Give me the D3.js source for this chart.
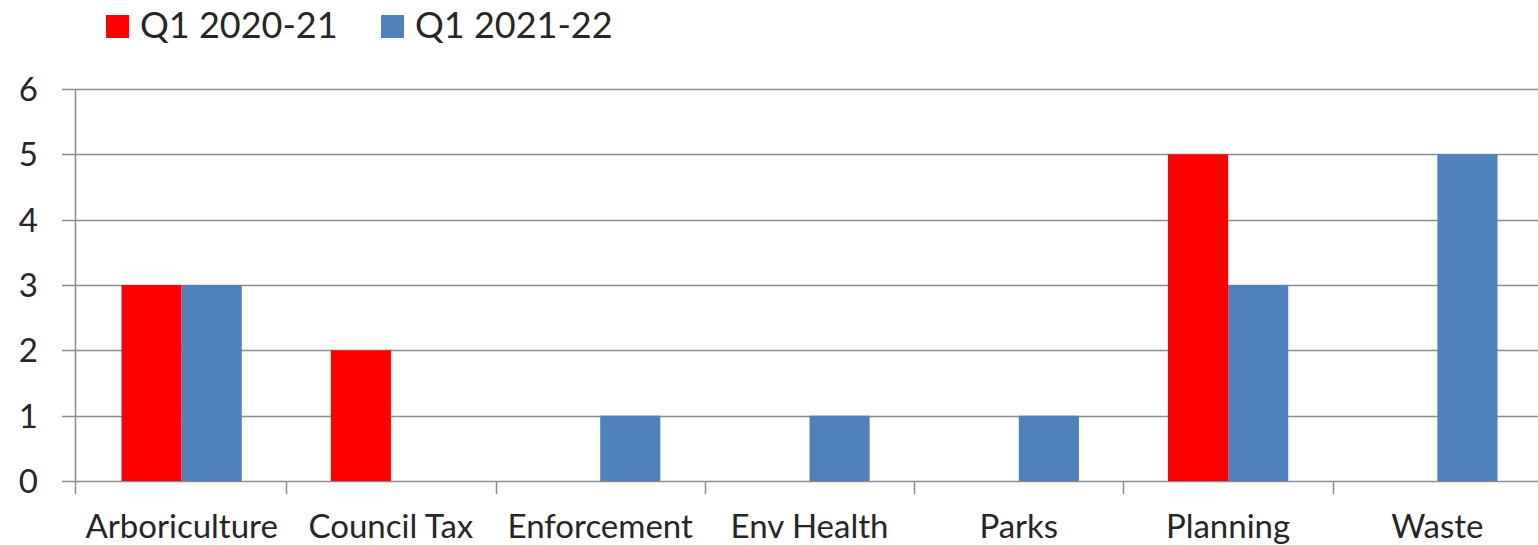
<!DOCTYPE html>
<html>
<head>
<meta charset="utf-8">
<script src="https://cdn.jsdelivr.net/npm/d3@7"></script>
<style>
  html, body { margin: 0; padding: 0; background: #fff; }
  svg { display: block; }
  text { font-family: "Lato", "Open Sans", sans-serif; fill: #262626; }
</style>
</head>
<body>
<svg id="chart" width="1538" height="545"></svg>
<script>
// Complaints by service area, first quarter of each year
const categories = ["Arboriculture", "Council Tax", "Enforcement", "Env Health", "Parks", "Planning", "Waste"];
const seriesNames = ["Q1 2020-21", "Q1 2021-22"];
const q1_2020_21 = [3, 2, 0, 0, 0, 5, 0];
const q1_2021_22 = [3, 0, 1, 1, 1, 3, 5];
const yTicks = [0, 1, 2, 3, 4, 5, 6];
const seriesColors = ["#ff0000", "#4f81bd"];

const seriesValues = [q1_2020_21, q1_2021_22];
const rows = categories.map((c, i) => ({
  category: c,
  values: seriesNames.map((s, k) => ({ series: s, value: seriesValues[k][i] }))
}));

const svg = d3.select("#chart");
const W = 1538;
const axisX = 75;
const gridColor = "#8c8c8c";

const x0 = d3.scaleBand().domain(categories).range([77, 1542]).padding(0);
const x1 = d3.scaleBand().domain(seriesNames).range([0, x0.bandwidth()]).paddingInner(0).paddingOuter(0.74);
const y = d3.scaleLinear().domain([0, 6]).range([481, 89]);
const color = d3.scaleOrdinal().domain(seriesNames).range(seriesColors);

// Horizontal gridlines with small ticks left of the axis
svg.append("g")
  .selectAll("line")
  .data(yTicks)
  .join("line")
  .attr("x1", 62)
  .attr("x2", W)
  .attr("y1", d => Math.round(y(d)) + 0.5)
  .attr("y2", d => Math.round(y(d)) + 0.5)
  .attr("stroke", gridColor)
  .attr("stroke-width", 1.5);

// Y tick labels
svg.append("g")
  .selectAll("text")
  .data(yTicks)
  .join("text")
  .attr("x", 38)
  .attr("y", d => y(d))
  .attr("dy", "0.36em")
  .attr("text-anchor", "end")
  .style("font-size", "33px")
  .text(d => d);

// Vertical axis line
svg.append("line")
  .attr("x1", axisX + 0.5).attr("x2", axisX + 0.5)
  .attr("y1", y(6)).attr("y2", y(0))
  .attr("stroke", gridColor)
  .attr("stroke-width", 1.5);

// Bars
const groups = svg.append("g")
  .selectAll("g")
  .data(rows)
  .join("g")
  .attr("transform", d => `translate(${x0(d.category)},0)`);

groups.selectAll("rect")
  .data(d => d.values.filter(v => v.value > 0))
  .join("rect")
  .attr("x", d => x1(d.series))
  .attr("width", x1.bandwidth())
  .attr("y", d => y(d.value))
  .attr("height", d => y(0) - y(d.value))
  .attr("fill", d => color(d.series));

// Category tick marks at band boundaries
const boundaries = categories.map(c => x0(c)).concat([x0(categories[categories.length - 1]) + x0.bandwidth()]);
boundaries[0] = axisX;
svg.append("g")
  .selectAll("line")
  .data(boundaries)
  .join("line")
  .attr("x1", d => Math.round(d) + 0.5)
  .attr("x2", d => Math.round(d) + 0.5)
  .attr("y1", y(0))
  .attr("y2", y(0) + 13)
  .attr("stroke", gridColor)
  .attr("stroke-width", 1.5);

// Category labels
svg.append("g")
  .selectAll("text")
  .data(categories)
  .join("text")
  .attr("x", d => x0(d) + x0.bandwidth() / 2)
  .attr("y", 538)
  .attr("text-anchor", "middle")
  .style("font-size", "33px")
  .text(d => d);

// Legend
const legendX = [106, 381];
const legend = svg.append("g")
  .selectAll("g")
  .data(seriesNames)
  .join("g")
  .attr("transform", (d, i) => `translate(${legendX[i]},15)`);

legend.append("rect")
  .attr("width", 23)
  .attr("height", 23)
  .attr("fill", d => color(d));

legend.append("text")
  .attr("x", 34)
  .attr("y", 23)
  .style("font-size", "36px")
  .text(d => d);
</script>
</body>
</html>
